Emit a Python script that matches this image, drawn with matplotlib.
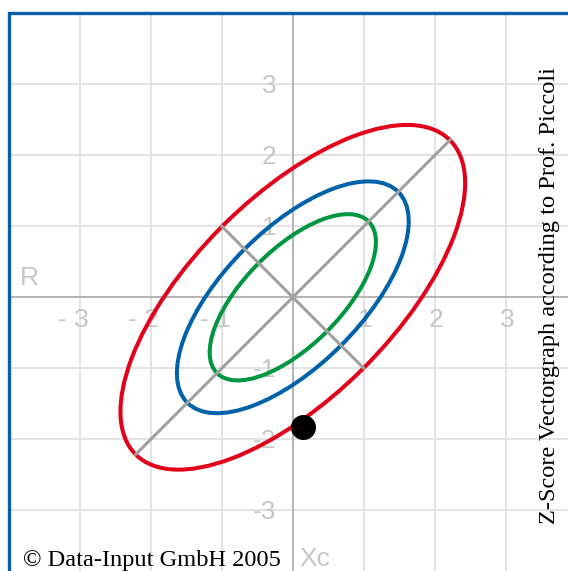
import numpy as np
import matplotlib.pyplot as plt
from matplotlib.patches import Ellipse, Rectangle

# ellipses (semi axes in z units, rotated 45 deg)
ell_names = ['50%', '75%', '95%']
ell_major = [1.51, 2.10, 3.13]
ell_minor = [0.68, 0.96, 1.41]
ell_colors = ['#00963f', '#0062a8', '#e2001a']

# measured vector point (R, Xc)
point_x = [0.14]
point_y = [-1.82]

grid_vals = [-3, -2, -1, 1, 2, 3]
x_labels = ['- 3', '- 2', '- 1', '1', '2', '3']
y_labels = ['-3', '-2', '-1', '1', '2', '3']

fig = plt.figure(figsize=(5.68, 5.71), dpi=100)
ax = fig.add_axes([0, 0, 1, 1])
ax.set_xlim(-4.124, 3.876)
ax.set_ylim(-3.855, 4.187)
ax.axis('off')

# grid inside the frame
for v in grid_vals:
    ax.plot([v, v], [-4, 4], color='#e3e3e3', lw=1.4, zorder=1)
    ax.plot([-4, 4], [v, v], color='#e3e3e3', lw=1.4, zorder=1)
ax.plot([0, 0], [-4, 4], color='#b4b4b4', lw=1.4, zorder=2)
ax.plot([-4, 4], [0, 0], color='#b4b4b4', lw=1.4, zorder=2)

# frame
ax.add_patch(Rectangle((-4, -4), 8, 8, fill=False, edgecolor='#0a5fa6', lw=2.4, zorder=3))

# tick labels
lab_kw = dict(color='#c6c6c6', fontsize=19, family='Liberation Sans', zorder=2)
for v, s in zip(grid_vals, x_labels):
    ax.text(v + 0.12, -0.32, s, ha='right', va='center', **lab_kw)
for v, s in zip(grid_vals, y_labels):
    ax.text(-0.23, v - 0.03, s, ha='right', va='center', **lab_kw)
ax.text(-3.84, 0.17, 'R', ha='left', va='baseline', **lab_kw)
ax.text(0.10, -3.785, 'Xc', ha='left', va='baseline', **lab_kw)

# ellipses
for a, b, c in zip(ell_major, ell_minor, ell_colors):
    ax.add_patch(Ellipse((0, 0), 2 * a, 2 * b, angle=45, fill=False,
                         edgecolor=c, lw=2.9, zorder=4))

# axes of the largest ellipse
a, b = ell_major[-1] / np.sqrt(2), ell_minor[-1] / np.sqrt(2)
ax.plot([-a, a], [-a, a], color='#a0a0a0', lw=2.2, zorder=5)
ax.plot([-b, b], [b, -b], color='#a0a0a0', lw=2.2, zorder=5)

ax.plot(point_x, point_y, 'o', color='black', ms=17, zorder=6)

ax.text(-3.80, -3.785, '\u00a9 Data-Input GmbH 2005', ha='left', va='baseline',
        fontsize=17.6, family='Liberation Serif', color='black', zorder=7)
ax.text(3.62, 0.03, 'Z-Score Vectorgraph according to Prof. Piccoli', rotation=90,
        ha='center', va='center', fontsize=17.6, family='Liberation Serif',
        color='black', zorder=7)

fig.savefig('out.png', dpi=100)
